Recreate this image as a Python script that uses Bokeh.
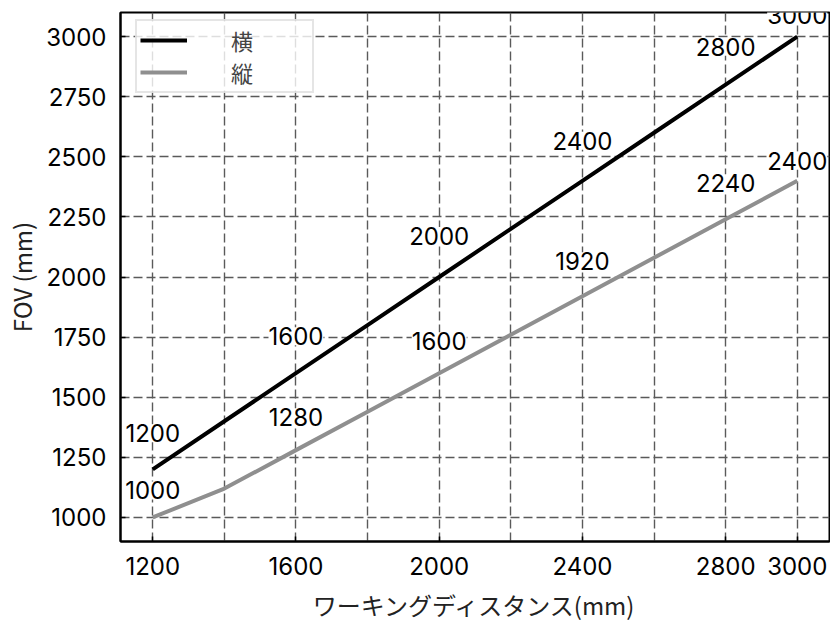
from bokeh.plotting import figure
from bokeh.models import (ColumnDataSource, LabelSet, FixedTicker, Range1d,
                          Legend, LegendItem)
from bokeh.core.properties import value
from bokeh.embed import file_html
from bokeh.resources import INLINE

# ---- data ----
wd = [1200, 1400, 1600, 1800, 2000, 2200, 2400, 2600, 2800, 3000]
fov_h = [1200, 1400, 1600, 1800, 2000, 2200, 2400, 2600, 2800, 3000]
fov_v = [1000, 1120, 1280, 1440, 1600, 1760, 1920, 2080, 2240, 2400]

label_wd = [1200, 1600, 2000, 2400, 2800, 3000]
label_h = [1200, 1600, 2000, 2400, 2800, 3000]
label_v = [1000, 1280, 1600, 1920, 2240, 2400]

x_ticks = [1200, 1600, 2000, 2400, 2800, 3000]
x_grid = [1200, 1400, 1600, 1800, 2000, 2200, 2400, 2600, 2800, 3000]
y_ticks = [1000, 1250, 1500, 1750, 2000, 2250, 2500, 2750, 3000]

series_names = ["横", "縦"]
x_title = "ワーキングディスタンス(mm)"
y_title = "FOV (mm)"

# label vertical offsets (px, screen)
label_h_dy = [36, 37, 41, 40, 38, 22]
label_v_dy = [27, 33, 32, 35, 36, 20]

NUM_FONT = "Inter"
JP_FONT = "Noto Sans CJK JP"

src = ColumnDataSource(dict(x=wd, h=fov_h, v=fov_v))

p = figure(width=830, height=624,
           x_range=Range1d(1110, 3090), y_range=Range1d(900, 3100),
           output_backend="svg", toolbar_location=None,
           min_border_left=120, min_border_right=1,
           min_border_top=12, min_border_bottom=82)
p.background_fill_color = "white"
p.border_fill_color = "white"
p.outline_line_color = "black"
p.outline_line_width = 2
p.outline_line_alpha = 1

# grid
p.xgrid.ticker = FixedTicker(ticks=x_grid)
p.ygrid.ticker = FixedTicker(ticks=y_ticks)
for g in (p.xgrid, p.ygrid):
    g.grid_line_color = "#5a5a5a"
    g.grid_line_width = 1.4
    g.grid_line_dash = "9 4"
    g.grid_line_alpha = 1

# axes
p.xaxis.ticker = FixedTicker(ticks=x_ticks)
p.yaxis.ticker = FixedTicker(ticks=y_ticks)
for ax in (p.xaxis, p.yaxis):
    ax.axis_line_color = "black"
    ax.axis_line_width = 2
    ax.major_tick_in = 5
    ax.major_tick_out = 0
    ax.minor_tick_in = 0
    ax.minor_tick_out = 0
    ax.major_tick_line_color = "black"
    ax.major_tick_line_width = 1.5
    ax.major_label_text_font = NUM_FONT
    ax.major_label_text_font_size = "24px"
    ax.major_label_text_color = "black"
    ax.axis_label_text_font = JP_FONT
    ax.axis_label_text_font_size = "24px"
    ax.axis_label_text_font_style = "normal"
    ax.axis_label_text_color = "#222222"
p.xaxis.major_label_standoff = 15
p.yaxis.major_label_standoff = 14
p.xaxis.axis_label = x_title
p.yaxis.axis_label = y_title
p.xaxis.axis_label_standoff = 9
p.yaxis.axis_label_standoff = 4

# lines
r_h = p.line("x", "h", source=src, line_color="black", line_width=4)
r_v = p.line("x", "v", source=src, line_color="#8f8f8f", line_width=4)

# value labels
src_lh = ColumnDataSource(dict(x=label_wd, y=label_h, t=[str(v) for v in label_h], dy=label_h_dy))
src_lv = ColumnDataSource(dict(x=label_wd, y=label_v, t=[str(v) for v in label_v], dy=label_v_dy))
for s in (src_lh, src_lv):
    ls = LabelSet(x="x", y="y", text="t", y_offset="dy", source=s,
                  text_align="center", text_baseline="middle",
                  text_font=value(NUM_FONT), text_font_size="24px", text_color="black",
                  background_fill_color="white", level="overlay")
    p.add_layout(ls)

# legend
legend = Legend(items=[LegendItem(label=series_names[0], renderers=[r_h]),
                       LegendItem(label=series_names[1], renderers=[r_v])],
                location=(15, 448))
legend.label_text_font = JP_FONT
legend.label_text_font_size = "22px"
legend.glyph_width = 47
legend.glyph_height = 20
legend.label_height = 20
legend.label_standoff = 44
legend.label_width = 78
legend.padding = 3
legend.spacing = 0
legend.border_line_color = "#cccccc"
legend.border_line_width = 2
legend.background_fill_color = "white"
legend.background_fill_alpha = 0.8
p.add_layout(legend, "center")

open("out.html", "w").write(file_html(p, INLINE))
